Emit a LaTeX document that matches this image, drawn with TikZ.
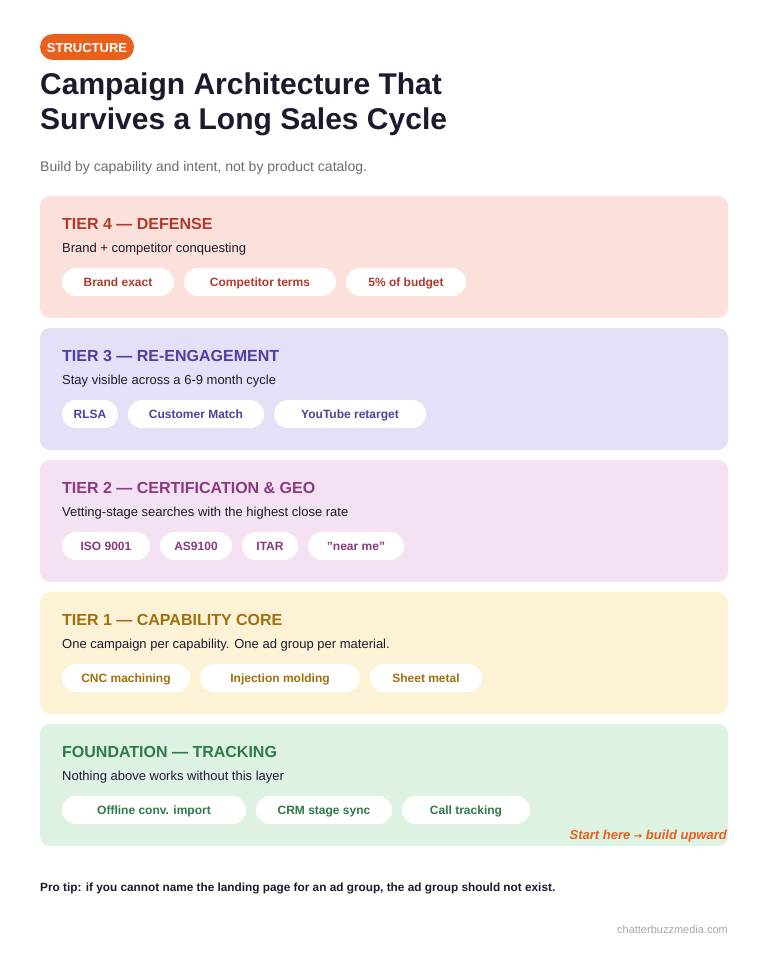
\documentclass[tikz,border=0pt]{standalone}
\usepackage{fontspec}
\setmainfont{Liberation Sans}
\newfontfamily\dejavu{DejaVu Sans}
\definecolor{ink}{HTML}{1C1B2E}
\definecolor{org}{HTML}{E8601C}
\definecolor{bgA}{HTML}{FCE0DC}\definecolor{txA}{HTML}{B03A2E}
\definecolor{bgB}{HTML}{E5E0F7}\definecolor{txB}{HTML}{4F3F9E}
\definecolor{bgC}{HTML}{F4E1F1}\definecolor{txC}{HTML}{8A3A80}
\definecolor{bgD}{HTML}{FDF1D6}\definecolor{txD}{HTML}{A0700F}
\definecolor{bgE}{HTML}{DEF2E4}\definecolor{txE}{HTML}{2F7A48}
\tikzset{
 panel/.style={fill=#1, rounded corners=10pt, draw=none},
 ttl/.style={anchor=west, font=\fontsize{16}{19}\selectfont\bfseries, text=#1, inner sep=0},
 dsc/.style={anchor=west, font=\fontsize{13}{15}\selectfont, text=ink, inner sep=0},
 pill/.style={fill=white, rounded corners=14pt, minimum height=28pt, inner sep=0, text height=10.5pt, text depth=1.5pt, font=\fontsize{12}{14}\selectfont\bfseries, text=#1},
}
\begin{document}
\begin{tikzpicture}[x=1pt,y=-1pt]
\useasboundingbox (0,0) rectangle (768,960);
\fill[white] (0,0) rectangle (768,960);
\node[fill=org, rounded corners=13pt, minimum width=94pt, minimum height=26pt, inner sep=0, text height=11.5pt, text depth=1pt, text=white, font=\fontsize{13}{15}\selectfont\bfseries] (badge) at (87,47) {STRUCTURE};
\node[anchor=north west, inner sep=0, align=left, text=ink, font=\fontsize{30}{35}\selectfont\bfseries] (title) at (40,73) {Campaign Architecture That\\Survives a Long Sales Cycle};
\node[anchor=west, inner sep=0, text=gray!85!black, font=\fontsize{14}{17}\selectfont] (sub) at (40,168) {Build by capability and intent, not by product catalog.};
\foreach \y/\bg/\tx/\t/\d [count=\i] in {
 196/bgA/txA/{TIER 4 — DEFENSE}/{Brand + competitor conquesting},
 328/bgB/txB/{TIER 3 — RE-ENGAGEMENT}/{Stay visible across a 6-9 month cycle},
 460/bgC/txC/{TIER 2 — CERTIFICATION \& GEO}/{Vetting-stage searches with the highest close rate},
 592/bgD/txD/{TIER 1 — CAPABILITY CORE}/{One campaign per capability. One ad group per material.},
 724/bgE/txE/{FOUNDATION — TRACKING}/{Nothing above works without this layer}}{
 \fill[panel=\bg] (40,\y) rectangle (728,\y+122);
 \node[ttl=\tx] (t\i) at (62,\y+28) {\t};
 \node[dsc] (d\i) at (62,\y+53) {\d};
}
\def\pl#1#2#3#4#5#6{\node[pill=#6, minimum width={#3-#2}] (#1) at ({(#2+#3)/2},#4) {#5};}
\pl{a1}{62}{174}{282}{Brand exact}{txA}
\pl{a2}{184}{336}{282}{Competitor terms}{txA}
\pl{a3}{346}{466}{282}{5\% of budget}{txA}
\pl{b1}{62}{118}{414}{RLSA}{txB}
\pl{b2}{128}{264}{414}{Customer Match}{txB}
\pl{b3}{274}{426}{414}{YouTube retarget}{txB}
\pl{c1}{62}{150}{546}{ISO 9001}{txC}
\pl{c2}{160}{232}{546}{AS9100}{txC}
\pl{c3}{242}{298}{546}{ITAR}{txC}
\pl{c4}{308}{404}{546}{"near me"}{txC}
\pl{e1}{62}{190}{678}{CNC machining}{txD}
\pl{e2}{200}{360}{678}{Injection molding}{txD}
\pl{e3}{370}{482}{678}{Sheet metal}{txD}
\pl{f1}{62}{246}{810}{Offline conv. import}{txE}
\pl{f2}{256}{392}{810}{CRM stage sync}{txE}
\pl{f3}{402}{530}{810}{Call tracking}{txE}
\node[anchor=east, inner sep=0, text=org, font=\fontsize{13}{15}\selectfont\bfseries\itshape] (start) at (727,836) {Start here {\dejavu\fontsize{10}{12}\selectfont→} build upward};
\node[anchor=west, inner sep=0, text=ink, font=\fontsize{11.8}{14}\selectfont\bfseries] (tip) at (40,888) {Pro tip: if you cannot name the landing page for an ad group, the ad group should not exist.};
\node[anchor=east, inner sep=0, text=gray!70, font=\fontsize{11}{13}\selectfont] (foot) at (728,930) {chatterbuzzmedia.com};
\end{tikzpicture}
\end{document}
